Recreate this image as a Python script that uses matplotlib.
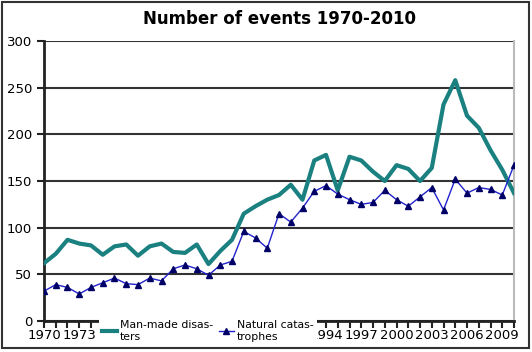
import matplotlib
matplotlib.use('agg')
import matplotlib.pyplot as plt
from matplotlib.patches import Rectangle

years = list(range(1970, 2011))
man_made = [62, 72, 87, 83, 81, 71, 80, 82, 70, 80, 83, 74, 73, 82, 61, 75, 87, 115, 123, 130,
            135, 146, 130, 172, 178, 140, 176, 172, 160, 150, 167, 163, 150, 164, 232, 258, 220,
            207, 183, 162, 137]
natural = [32, 39, 36, 29, 36, 41, 46, 40, 39, 46, 43, 56, 60, 56, 49, 60, 64, 96, 89, 78,
           115, 106, 121, 139, 145, 136, 130, 125, 127, 140, 130, 123, 133, 143, 119, 152, 137,
           143, 141, 135, 167]
# labels under the legend are hidden in the original
tick_years = [1970, 1973, 1994, 1997, 2000, 2003, 2006, 2009]

fig = plt.figure(figsize=(5.32, 3.52), dpi=100)
fig.patches.append(Rectangle((0.004, 0.012), 0.99, 0.982, transform=fig.transFigure,
                             fill=False, edgecolor='#333333', linewidth=1.5))
ax = fig.add_axes([0.0827, 0.088, 0.8835, 0.7955])

ax.plot(years, man_made, color='#1a8080', linewidth=3, label='Man-made disas-\nters', zorder=3)
ax.plot(years, natural, color='#2222cc', linewidth=1, marker='^', markersize=5,
        markerfacecolor='#000066', markeredgecolor='#000066', label='Natural catas-\ntrophes', zorder=4)

ax.set_xlim(1970, 2010)
ax.set_ylim(0, 300)
ax.set_yticks(range(0, 301, 50))
ax.set_xticks(years)
ax.set_xticklabels([str(y) if y in tick_years else '' for y in years])
ax.yaxis.grid(True, color='#333333', linewidth=1.5, zorder=1)
ax.set_axisbelow(True)
ax.tick_params(axis='both', labelsize=9.5, color='#222222', width=1.5, length=5)
ax.tick_params(axis='x', pad=1)
for s in ['left', 'bottom']:
    ax.spines[s].set_linewidth(2)
    ax.spines[s].set_color('#222222')
ax.spines['top'].set_visible(False)
ax.spines['right'].set_color('#bbbbbb')
ax.spines['right'].set_linewidth(1.5)

ax.set_title('Number of events 1970-2010', fontsize=12, fontweight='bold', pad=12)

leg = fig.legend(loc='lower left', bbox_to_anchor=(0.175, 0.005), ncol=2, fontsize=7.8,
                 frameon=True, fancybox=False, framealpha=1, edgecolor='white',
                 handlelength=1.4, handletextpad=0.3, columnspacing=0.5, borderpad=0.3,
                 labelspacing=0.2)
leg.get_frame().set_linewidth(0)

fig.savefig('out.png', dpi=100)
